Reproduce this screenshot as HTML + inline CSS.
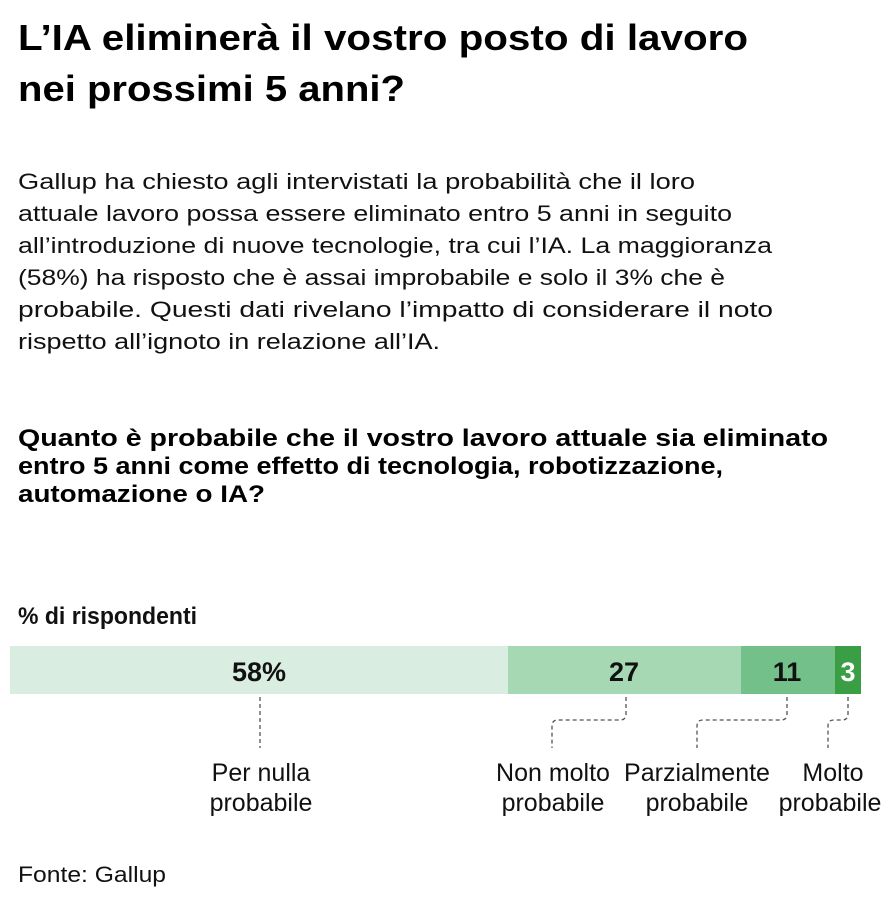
<!DOCTYPE html>
<html><head><meta charset="utf-8"><style>
html,body{margin:0;padding:0;background:#fff;width:894px;height:923px;overflow:hidden}
svg{display:block}
.t{font-family:"Liberation Sans",sans-serif;font-weight:bold;font-size:36px;fill:#000}
.b{font-family:"Liberation Sans",sans-serif;font-size:22px;fill:#111}
.s{font-family:"Liberation Sans",sans-serif;font-weight:bold;font-size:24px;fill:#000}
.n{font-family:"Liberation Sans Narrow","Liberation Sans",sans-serif;font-size:25px;fill:#111}
.v{font-family:"Liberation Sans Narrow","Liberation Sans",sans-serif;font-weight:bold;font-size:27px;fill:#111}
</style></head><body>
<svg width="894" height="923" xmlns="http://www.w3.org/2000/svg">
<text class="t" x="18" y="50" textLength="730" lengthAdjust="spacingAndGlyphs">L’IA eliminerà il vostro posto di lavoro</text>
<text class="t" x="18" y="101" textLength="387" lengthAdjust="spacingAndGlyphs">nei prossimi 5 anni?</text>

<text class="b" x="18" y="189" textLength="677" lengthAdjust="spacingAndGlyphs">Gallup ha chiesto agli intervistati la probabilità che il loro</text>
<text class="b" x="18" y="221" textLength="714" lengthAdjust="spacingAndGlyphs">attuale lavoro possa essere eliminato entro 5 anni in seguito</text>
<text class="b" x="18" y="253" textLength="754" lengthAdjust="spacingAndGlyphs">all’introduzione di nuove tecnologie, tra cui l’IA. La maggioranza</text>
<text class="b" x="18" y="285" textLength="707" lengthAdjust="spacingAndGlyphs">(58%) ha risposto che è assai improbabile e solo il 3% che è</text>
<text class="b" x="18" y="317" textLength="755" lengthAdjust="spacingAndGlyphs">probabile. Questi dati rivelano l’impatto di considerare il noto</text>
<text class="b" x="18" y="349" textLength="422" lengthAdjust="spacingAndGlyphs">rispetto all’ignoto in relazione all’IA.</text>

<text class="s" x="18" y="446" textLength="810" lengthAdjust="spacingAndGlyphs">Quanto è probabile che il vostro lavoro attuale sia eliminato</text>
<text class="s" x="18" y="474" textLength="705" lengthAdjust="spacingAndGlyphs">entro 5 anni come effetto di tecnologia, robotizzazione,</text>
<text class="s" x="18" y="502" textLength="247" lengthAdjust="spacingAndGlyphs">automazione o IA?</text>

<text class="v" x="18" y="624" style="font-size:24px" textLength="179" lengthAdjust="spacingAndGlyphs">% di rispondenti</text>

<rect x="10" y="646" width="498" height="48" fill="#d9ede0"/>
<rect x="508" y="646" width="233" height="48" fill="#a5d8b3"/>
<rect x="741" y="646" width="94" height="48" fill="#74c08a"/>
<rect x="835" y="646" width="26" height="48" fill="#3a9e44"/>

<text class="v" x="259" y="681" text-anchor="middle">58%</text>
<text class="v" x="624" y="681" text-anchor="middle">27</text>
<text class="v" x="787" y="681" text-anchor="middle">11</text>
<text class="v" x="848" y="681" text-anchor="middle" fill="#fff" style="fill:#fff">3</text>

<g fill="none" stroke="#555" stroke-width="1.3" stroke-dasharray="4,3">
<path d="M260 697 V748"/>
<path d="M626 697 V714 Q626 720 620 720 H558 Q552 720 552 726 V748"/>
<path d="M787 697 V714 Q787 720 781 720 H703 Q697 720 697 726 V748"/>
<path d="M848 697 V714 Q848 720 842 720 H834 Q828 720 828 726 V748"/>
</g>

<text class="n" x="261" y="781" text-anchor="middle">Per nulla</text>
<text class="n" x="261" y="811" text-anchor="middle">probabile</text>
<text class="n" x="553" y="781" text-anchor="middle">Non molto</text>
<text class="n" x="553" y="811" text-anchor="middle">probabile</text>
<text class="n" x="697" y="781" text-anchor="middle">Parzialmente</text>
<text class="n" x="697" y="811" text-anchor="middle">probabile</text>
<text class="n" x="833" y="781" text-anchor="middle">Molto</text>
<text class="n" x="830" y="811" text-anchor="middle">probabile</text>

<text class="b" x="18" y="882" textLength="148" lengthAdjust="spacingAndGlyphs">Fonte: Gallup</text>
</svg>
</body></html>
